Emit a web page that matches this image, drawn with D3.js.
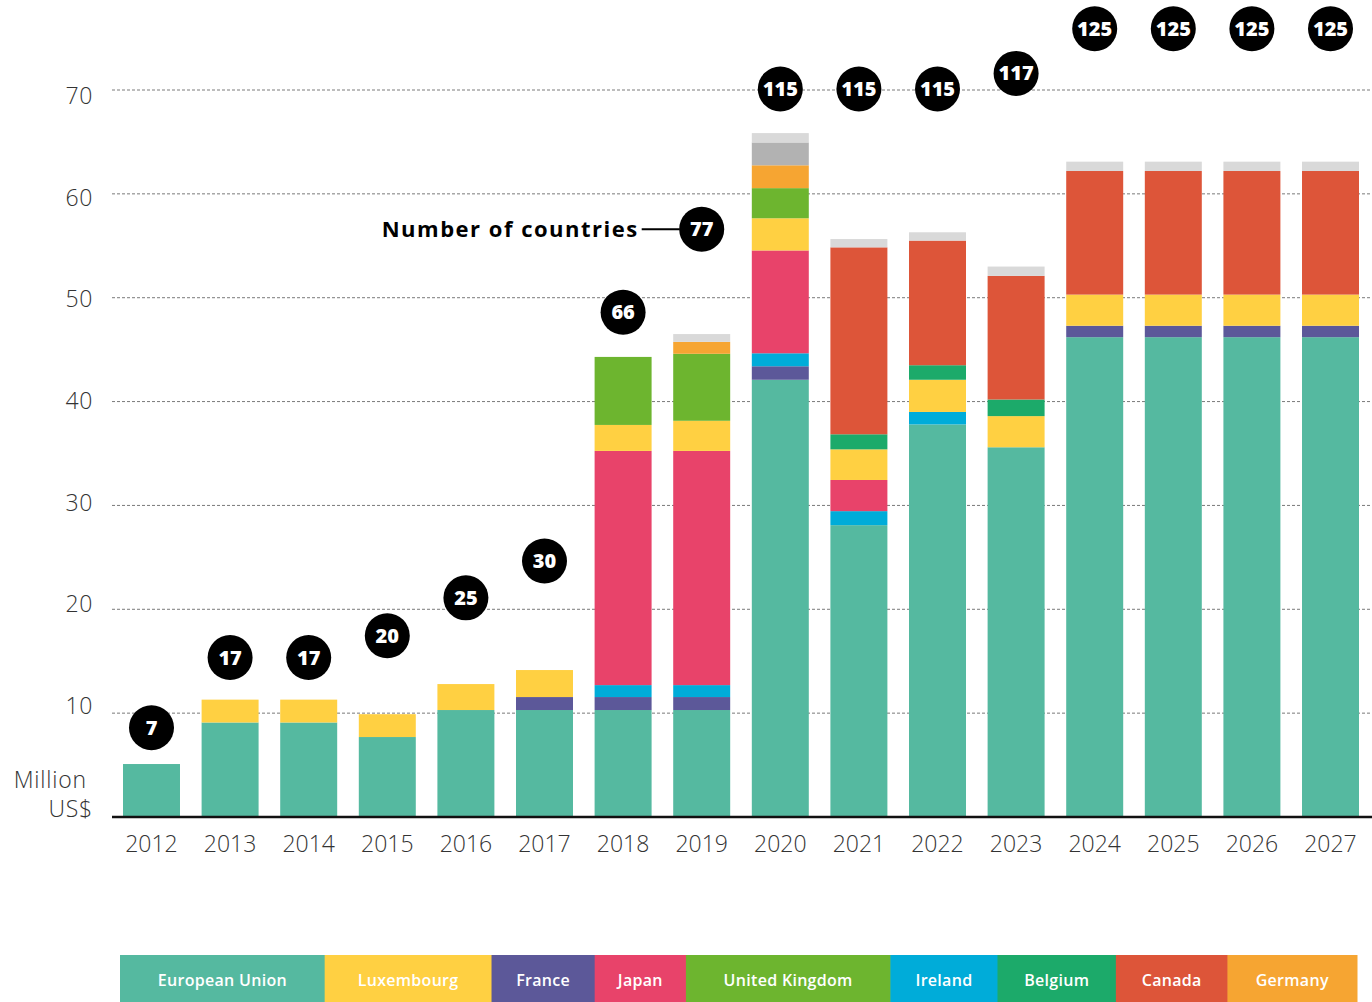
<!DOCTYPE html>
<html>
<head>
<meta charset="utf-8">
<script src="https://cdn.jsdelivr.net/npm/d3@7"></script>
<style>
  body { margin: 0; background: #fff; }
  svg { display: block; font-family: 'Open Sans', 'Noto Sans', sans-serif; }
</style>
</head>
<body>
<svg id="chart" width="1372" height="1002"></svg>
<script>
// years on the x axis
let years = ['2012','2013','2014','2015','2016','2017','2018','2019','2020','2021','2022','2023','2024','2025','2026','2027'];

// contributions per donor, million US$
let euro   = [5.1, 9.1, 9.1, 7.7, 10.3, 10.3, 10.3, 10.3, 42.1, 28.1, 37.8, 35.6, 46.2, 46.2, 46.2, 46.2];
let france = [0, 0, 0, 0, 0, 1.25, 1.25, 1.25, 1.3, 0, 0, 0, 1.1, 1.1, 1.1, 1.1];
let ireland = [0, 0, 0, 0, 0, 0, 1.15, 1.15, 1.25, 1.35, 1.2, 0, 0, 0, 0, 0];
let japan  = [0, 0, 0, 0, 0, 0, 22.55, 22.55, 9.9, 3.0, 0, 0, 0, 0, 0, 0];
let luxem  = [0, 2.2, 2.2, 2.2, 2.5, 2.6, 2.5, 2.9, 3.1, 2.95, 3.1, 3.0, 3.0, 3.0, 3.0, 3.0];
let belgium = [0, 0, 0, 0, 0, 0, 0, 0, 0, 1.45, 1.4, 1.6, 0, 0, 0, 0];
let uk     = [0, 0, 0, 0, 0, 0, 6.55, 6.45, 2.9, 0, 0, 0, 0, 0, 0, 0];
let canada = [0, 0, 0, 0, 0, 0, 0, 0, 0, 18.0, 12.0, 11.9, 11.9, 11.9, 11.9, 11.9];
let germany = [0, 0, 0, 0, 0, 0, 0, 1.15, 2.2, 0, 0, 0, 0, 0, 0, 0];
let otherA = [0, 0, 0, 0, 0, 0, 0, 0, 2.2, 0, 0, 0, 0, 0, 0, 0];
let otherB = [0, 0, 0, 0, 0, 0, 0, 0.75, 0.9, 0.8, 0.8, 0.9, 0.9, 0.9, 0.9, 0.9];

// number of countries and the level (million US$) where each badge sits
let countries = [7, 17, 17, 20, 25, 30, 66, 77, 115, 115, 115, 117, 125, 125, 125, 125];
let badgeLevel = [8.6, 15.35, 15.35, 17.45, 21.1, 24.65, 48.6, 56.6, 70.1, 70.1, 70.1, 71.6, 75.9, 75.9, 75.9, 75.9];

let yTicks = [10, 20, 30, 40, 50, 60, 70];
let legendNames = ['European Union', 'Luxembourg', 'France', 'Japan', 'United Kingdom', 'Ireland', 'Belgium', 'Canada', 'Germany'];

// stacking order bottom -> top
let series = [
  {key: 'European Union', values: euro, color: '#55b9a0'},
  {key: 'France', values: france, color: '#5c5899'},
  {key: 'Ireland', values: ireland, color: '#00acd9'},
  {key: 'Japan', values: japan, color: '#e8436a'},
  {key: 'Luxembourg', values: luxem, color: '#ffd042'},
  {key: 'Belgium', values: belgium, color: '#1caa6a'},
  {key: 'United Kingdom', values: uk, color: '#6db52f'},
  {key: 'Canada', values: canada, color: '#dd5539'},
  {key: 'Germany', values: germany, color: '#f6a532'},
  {key: 'OtherA', values: otherA, color: '#b2b2b2'},
  {key: 'OtherB', values: otherB, color: '#d9d9d9'}
];
let colorOf = {};
series.forEach(s => colorOf[s.key] = s.color);

let rows = years.map((yr, i) => {
  let r = {year: yr};
  series.forEach(s => r[s.key] = s.values[i]);
  return r;
});

let svg = d3.select('#chart');

let x = d3.scaleBand().domain(years).range([112, 1370]).paddingInner(0.275).paddingOuter(0.14);
let y = d3.scaleLinear().domain([0, 70]).range([817, 90]);
// tick labels in the original are spaced a little tighter than the gridlines
let yLab = d3.scaleLinear().domain([10, 70]).range([706, 96]);

// gridlines
svg.append('g').selectAll('line').data(yTicks).join('line')
  .attr('x1', 112).attr('x2', 1372)
  .attr('y1', d => y(d)).attr('y2', d => y(d))
  .attr('stroke', '#7a7a7a').attr('stroke-width', 1).attr('stroke-dasharray', '3,2');

// y tick labels
svg.append('g').selectAll('text').data(yTicks).join('text')
  .attr('x', 93).attr('y', d => yLab(d) + 8)
  .attr('text-anchor', 'end')
  .attr('font-size', 23).attr('font-weight', 300).attr('fill', '#333').attr('letter-spacing', 0.6)
  .text(d => d);

svg.append('text').attr('x', 87).attr('y', 788).attr('text-anchor', 'end')
  .attr('font-size', 23).attr('font-weight', 300).attr('fill', '#333').attr('letter-spacing', 0.8).text('Million');
svg.append('text').attr('x', 93).attr('y', 817).attr('text-anchor', 'end')
  .attr('font-size', 23).attr('font-weight', 300).attr('fill', '#333').attr('letter-spacing', 0.8).text('US$');

// stacked bars
let stack = d3.stack().keys(series.map(s => s.key));
let stacked = stack(rows);

svg.append('g').selectAll('g').data(stacked).join('g')
  .attr('fill', d => colorOf[d.key])
  .selectAll('rect').data(d => d).join('rect')
  .attr('x', d => x(d.data.year))
  .attr('width', x.bandwidth())
  .attr('y', d => y(d[1]))
  .attr('height', d => Math.max(0, y(d[0]) - y(d[1])));

// baseline
svg.append('line').attr('x1', 112).attr('x2', 1372).attr('y1', y(0)).attr('y2', y(0))
  .attr('stroke', '#111').attr('stroke-width', 2.5);

// year labels
svg.append('g').selectAll('text').data(years).join('text')
  .attr('x', d => x(d) + x.bandwidth() / 2).attr('y', 852)
  .attr('text-anchor', 'middle')
  .attr('font-size', 23).attr('font-weight', 300).attr('fill', '#333')
  .text(d => d);

// country count badges
let badges = svg.append('g').selectAll('g').data(years).join('g')
  .attr('transform', (d, i) => 'translate(' + (x(d) + x.bandwidth() / 2) + ',' + y(badgeLevel[i]) + ')');
badges.append('circle').attr('r', 22.5).attr('fill', '#000');
badges.append('text').attr('text-anchor', 'middle').attr('dy', 7)
  .attr('font-size', 20).attr('font-weight', 800).attr('fill', '#fff')
  .text((d, i) => countries[i]);

// "Number of countries" callout at 2019
let cx19 = x('2019') + x.bandwidth() / 2;
let cy19 = y(badgeLevel[7]);
svg.append('line').attr('x1', cx19 - 60).attr('x2', cx19 - 22).attr('y1', cy19).attr('y2', cy19)
  .attr('stroke', '#000').attr('stroke-width', 2);
svg.append('text').attr('x', cx19 - 63).attr('y', cy19 + 8).attr('text-anchor', 'end')
  .attr('font-size', 22).attr('font-weight', 700).attr('fill', '#000').attr('letter-spacing', 1.5)
  .text('Number of countries');

// legend strip along the bottom, boxes sized from the label widths
let legend = svg.append('g');
let lx0 = 120, lx1 = 1357, ly = 955, lh = 47;
let tmp = legend.selectAll('text.m').data(legendNames).join('text')
  .attr('font-size', 16).attr('font-weight', 600).text(d => d);
let widths = [];
tmp.each(function() { widths.push(this.getComputedTextLength() * 1.45 + 32); });
tmp.remove();
let total = d3.sum(widths);
let k = (lx1 - lx0) / total;
let pos = lx0;
legendNames.forEach((name, i) => {
  let w = widths[i] * k;
  legend.append('rect').attr('x', pos).attr('y', ly).attr('width', w + 0.5).attr('height', lh)
    .attr('fill', colorOf[name]);
  legend.append('text').attr('x', pos + w / 2).attr('y', ly + 31).attr('text-anchor', 'middle')
    .attr('font-size', 16).attr('font-weight', 600).attr('fill', '#fff').attr('letter-spacing', 0.3).text(name);
  pos += w;
});
</script>
</body>
</html>
